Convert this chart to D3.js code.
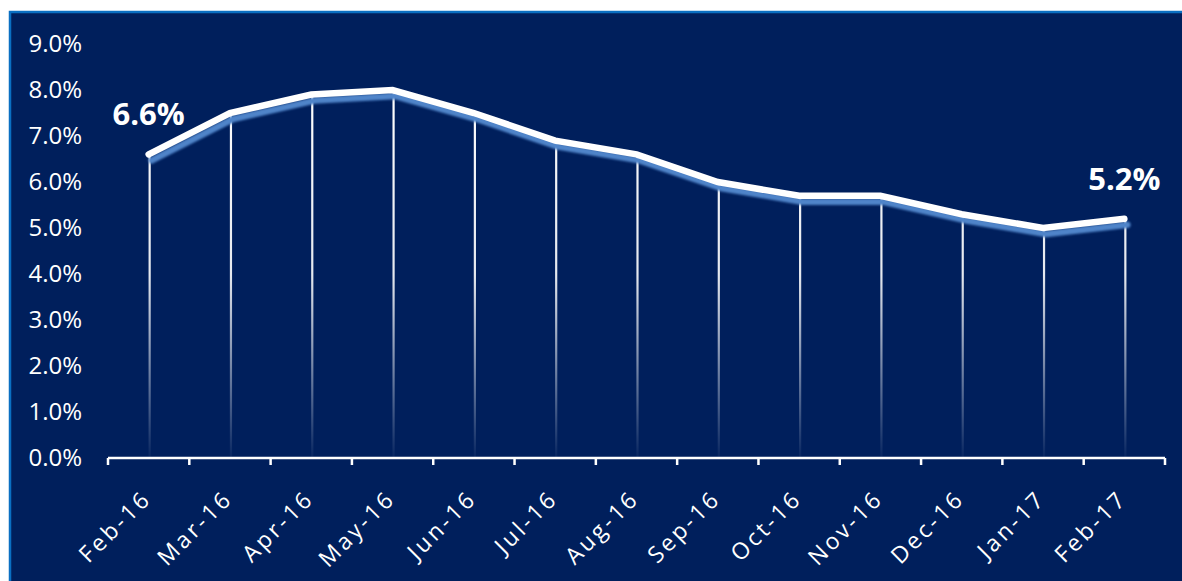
<!DOCTYPE html>
<html>
<head>
<meta charset="utf-8">
<script src="https://cdn.jsdelivr.net/npm/d3@7/dist/d3.min.js"></script>
<style>
  html, body { margin: 0; padding: 0; background: #ffffff; }
  svg { display: block; }
</style>
</head>
<body>
<svg id="chart" width="1182" height="581"></svg>
<script>
const categories = ["Feb-16","Mar-16","Apr-16","May-16","Jun-16","Jul-16","Aug-16","Sep-16","Oct-16","Nov-16","Dec-16","Jan-17","Feb-17"];
const values = [6.6, 7.5, 7.9, 8.0, 7.5, 6.9, 6.6, 6.0, 5.7, 5.7, 5.3, 5.0, 5.2];
const yTicks = [0, 1, 2, 3, 4, 5, 6, 7, 8, 9];
const labelledIdx = [0, 12];

const svg = d3.select("#chart");
const W = 1182, H = 581;
const font = "'Open Sans', sans-serif";

// background panel with blue border (top & left visible)
svg.append("rect").attr("x", 10).attr("y", 12).attr("width", W).attr("height", H)
  .attr("fill", "#001f5c").attr("stroke", "#0a6fc2").attr("stroke-width", 2.5);

const x = d3.scaleBand().domain(categories).range([108, 1165]).padding(0);
const y = d3.scaleLinear().domain([0, 9]).range([458, 44]);

const defs = svg.append("defs");
const grad = defs.append("linearGradient").attr("id", "dropGrad")
  .attr("gradientUnits", "userSpaceOnUse")
  .attr("x1", 0).attr("x2", 0).attr("y1", y(8)).attr("y2", y(0));
grad.append("stop").attr("offset", "0%").attr("stop-color", "#ffffff").attr("stop-opacity", 1);
grad.append("stop").attr("offset", "50%").attr("stop-color", "#ffffff").attr("stop-opacity", 0.9);
grad.append("stop").attr("offset", "100%").attr("stop-color", "#ffffff").attr("stop-opacity", 0.03);

const blur = defs.append("filter").attr("id", "blur").attr("x", "-5%").attr("y", "-20%").attr("width", "110%").attr("height", "140%");
blur.append("feGaussianBlur").attr("stdDeviation", 1.2);

const cx = d => x(d) + x.bandwidth() / 2;

// drop lines
svg.append("g").selectAll("line").data(categories).join("line")
  .attr("x1", d => cx(d) + 1).attr("x2", d => cx(d) + 1)
  .attr("y1", (d, i) => y(values[i])).attr("y2", y(0))
  .attr("stroke", "url(#dropGrad)").attr("stroke-width", 2.2);

// x axis
const gx = svg.append("g").attr("transform", `translate(0,${y(0)})`);
gx.append("line").attr("x1", 108).attr("x2", 1165).attr("y1", 0).attr("y2", 0)
  .attr("stroke", "#ffffff").attr("stroke-width", 2.5);
const boundaries = categories.map(d => x(d)).concat([x(categories[categories.length - 1]) + x.bandwidth()]);
gx.selectAll("line.tick").data(boundaries).join("line").attr("class", "tick")
  .attr("x1", d => d).attr("x2", d => d).attr("y1", 0).attr("y2", 7)
  .attr("stroke", "#ffffff").attr("stroke-width", 2.5);

// x labels
gx.selectAll("text").data(categories).join("text")
  .attr("transform", d => `translate(${cx(d) + 4},${42}) rotate(-45)`)
  .attr("text-anchor", "end")
  .attr("fill", "#ffffff")
  .attr("font-family", font).attr("font-size", 23).attr("letter-spacing", 3)
  .text(d => d);

// y labels
svg.append("g").selectAll("text").data(yTicks).join("text")
  .attr("x", 82).attr("y", d => y(d)).attr("dy", "0.35em")
  .attr("text-anchor", "end").attr("fill", "#ffffff")
  .attr("font-family", font).attr("font-size", 24)
  .text(d => d3.format(".1f")(d) + "%");

// line with shadow
const line = d3.line().x((d, i) => cx(categories[i])).y(d => y(d));
svg.append("path").datum(values).attr("d", line)
  .attr("transform", "translate(3,6)")
  .attr("fill", "none").attr("stroke", "#4f84c9").attr("stroke-width", 6.5)
  .attr("stroke-linejoin", "round").attr("stroke-linecap", "round")
  .attr("filter", "url(#blur)");
svg.append("path").datum(values).attr("d", line)
  .attr("fill", "none").attr("stroke", "#ffffff").attr("stroke-width", 6.5)
  .attr("stroke-linejoin", "miter").attr("stroke-linecap", "round");

// data labels
svg.append("g").selectAll("text").data(labelledIdx).join("text")
  .attr("x", i => cx(categories[i]))
  .attr("y", i => y(values[i]) - 29)
  .attr("text-anchor", "middle").attr("fill", "#ffffff")
  .attr("font-family", font).attr("font-weight", "bold").attr("font-size", 31)
  .text(i => d3.format(".1f")(values[i]) + "%");
</script>
</body>
</html>
